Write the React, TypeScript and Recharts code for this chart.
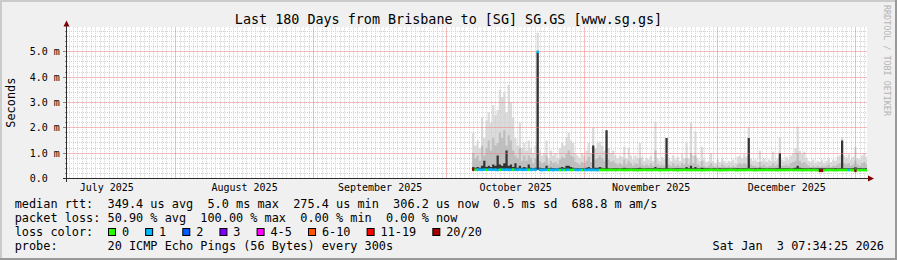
import { Area, CartesianGrid, ComposedChart, ReferenceLine, Scatter, XAxis, YAxis } from 'recharts';

const FONT = '"DejaVu Sans Mono", "Liberation Mono", monospace';
const W = 897;
const H = 260;
const PLOT_L = 67;
const PLOT_R = 867;
const PLOT_T = 27.2;
const PLOT_B = 178.4;
const X_AXIS_H = 30;

// time axis: days since 1 July 2025 00:00
const X_MIN = 6.55;
const X_MAX = 186.55;
const MONTH_START = [31, 62, 92, 123, 153, 184];
const MONTH_MID = [15.5, 46.5, 77, 107.5, 138, 168.5];
const MONTH_LABEL = ['July 2025', 'August 2025', 'September 2025', 'October 2025', 'November 2025', 'December 2025'];

// value axis in milliseconds
const Y_MAX = 5.97;
const Y_MAJOR = [0, 1, 2, 3, 4, 5];
const Y_LABEL = ['0.0', '1.0 m', '2.0 m', '3.0 m', '4.0 m', '5.0 m'];

// one sample every half day from 7 Oct 2025
const SAMPLE_START = 97.7;
const SAMPLE_STEP = 0.5;

const minRtt = [
  0.31, 0.31, 0.32, 0.31, 0.31, 0.32, 0.31, 0.31, 0.32, 0.31,
  0.32, 0.31, 0.31, 0.32, 0.31, 0.31, 0.32, 0.31, 0.31, 0.31,
  0.31, 0.32, 0.31, 0.31, 0.32, 0.31, 0.31, 0.32, 0.31, 0.34,
  0.31, 0.31, 0.31, 0.31, 0.31, 0.31, 0.31, 0.31, 0.31, 0.31,
  0.31, 0.31, 0.31, 0.31, 0.31, 0.31, 0.31, 0.31, 0.31, 0.31,
  0.31, 0.31, 0.31, 0.31, 0.31, 0.31, 0.31, 0.31, 0.31, 0.31,
  0.31, 0.31, 0.31, 0.31, 0.31, 0.31, 0.31, 0.31, 0.31, 0.31,
  0.31, 0.31, 0.31, 0.31, 0.30, 0.31, 0.31, 0.31, 0.31, 0.31,
  0.31, 0.31, 0.31, 0.31, 0.30, 0.31, 0.31, 0.31, 0.31, 0.31,
  0.31, 0.31, 0.30, 0.31, 0.31, 0.31, 0.31, 0.31, 0.31, 0.31,
  0.31, 0.31, 0.31, 0.30, 0.31, 0.31, 0.31, 0.31, 0.31, 0.31,
  0.31, 0.30, 0.31, 0.31, 0.31, 0.31, 0.31, 0.31, 0.31, 0.30,
  0.31, 0.31, 0.31, 0.31, 0.31, 0.31, 0.31, 0.30, 0.31, 0.31,
  0.31, 0.31, 0.31, 0.31, 0.31, 0.31, 0.31, 0.30, 0.31, 0.31,
  0.31, 0.31, 0.31, 0.31, 0.31, 0.31, 0.31, 0.31, 0.30, 0.31,
  0.31, 0.31, 0.30, 0.31, 0.31, 0.30, 0.29, 0.29, 0.30, 0.31,
  0.31, 0.31, 0.31, 0.30, 0.31, 0.31, 0.31, 0.31, 0.31, 0.31,
  0.31, 0.30, 0.29, 0.31, 0.30, 0.31, 0.31, 0.30, 0.30,
];

const medianRtt = [
  0.35, 0.34, 0.35, 0.34, 0.34, 0.35, 0.34, 0.35, 0.35, 0.34,
  0.35, 0.33, 0.34, 0.35, 0.34, 0.35, 0.34, 0.34, 0.35, 0.34,
  0.34, 0.35, 0.34, 0.34, 0.35, 0.34, 0.34, 0.35, 0.34, 5.0,
  0.34, 0.33, 0.34, 0.34, 0.33, 0.34, 0.33, 0.34, 0.34, 0.33,
  0.34, 0.33, 0.34, 0.34, 0.33, 0.34, 0.34, 0.33, 0.34, 0.33,
  0.34, 0.33, 0.34, 0.33, 0.34, 0.33, 0.33, 0.33, 0.34, 0.33,
  0.33, 0.33, 0.34, 0.33, 0.33, 0.33, 0.34, 0.33, 0.33, 0.33,
  0.33, 0.34, 0.33, 0.33, 0.32, 0.33, 0.33, 0.34, 0.33, 0.33,
  0.33, 0.33, 0.34, 0.33, 0.32, 0.33, 0.33, 0.33, 0.33, 0.34,
  0.33, 0.33, 0.32, 0.33, 0.33, 0.34, 0.33, 0.33, 0.33, 0.33,
  0.33, 0.33, 0.33, 0.32, 0.33, 0.33, 0.33, 0.34, 0.33, 0.33,
  0.33, 0.32, 0.33, 0.33, 0.33, 0.33, 0.34, 0.33, 0.33, 0.32,
  0.33, 0.33, 0.33, 0.33, 0.34, 0.33, 0.33, 0.32, 0.33, 0.33,
  0.33, 0.33, 0.34, 0.33, 0.33, 0.33, 0.33, 0.32, 0.33, 0.33,
  0.33, 0.33, 0.33, 0.34, 0.33, 0.33, 0.33, 0.33, 0.32, 0.33,
  0.33, 0.33, 0.32, 0.33, 0.33, 0.32, 0.30, 0.30, 0.32, 0.33,
  0.33, 0.33, 0.33, 0.32, 0.33, 0.33, 0.33, 0.33, 0.33, 0.33,
  0.33, 0.32, 0.30, 0.33, 0.32, 0.33, 0.33, 0.32, 0.32,
];

// densest band of the smoke
const darkRtt = [
  0.45, 0.42, 0.45, 0.42, 0.5, 0.7, 0.45, 0.5, 0.45, 0.55,
  0.5, 0.9, 0.55, 0.5, 0.6, 1.1, 0.5, 0.55, 0.45, 0.6,
  0.42, 0.5, 0.42, 0.45, 0.42, 0.55, 0.42, 0.4, 0.42, 5.0,
  0.42, 0.4, 0.4, 0.5, 0.4, 0.42, 0.4, 0.4, 0.4, 0.42,
  0.45, 0.42, 0.5, 0.5, 0.45, 0.42, 0.4, 0.4, 0.4, 0.4,
  0.4, 0.42, 0.45, 0.4, 1.3, 0.42, 0.42, 0.45, 0.42, 0.4,
  1.9, 0.4, 0.4, 0.4, 0.4, 0.4, 0.4, 0.4, 0.42, 0.4,
  0.4, 0.4, 0.4, 0.4, 0.4, 0.42, 0.4, 0.4, 0.4, 0.4,
  0.4, 0.4, 0.45, 0.4, 0.4, 0.4, 0.4, 1.6, 0.4, 0.4,
  0.4, 0.4, 0.4, 0.4, 0.4, 0.4, 0.45, 0.4, 0.5, 0.4,
  0.45, 0.4, 0.4, 0.42, 0.4, 0.4, 0.4, 0.4, 0.4, 0.4,
  0.4, 0.4, 0.4, 0.4, 0.4, 0.4, 0.4, 0.4, 0.4, 0.4,
  0.4, 0.4, 0.4, 0.4, 1.6, 0.4, 0.4, 0.4, 0.4, 0.42,
  0.4, 0.4, 0.4, 0.4, 0.4, 0.4, 0.4, 0.4, 1.0, 0.4,
  0.4, 0.4, 0.4, 0.4, 0.4, 0.42, 0.5, 0.42, 0.4, 0.4,
  0.4, 0.4, 0.4, 0.4, 0.4, 0.4, 0.4, 0.4, 0.4, 0.4,
  0.4, 0.4, 0.4, 0.4, 0.4, 0.4, 1.5, 0.4, 0.4, 0.4,
  0.4, 0.4, 0.45, 0.4, 0.4, 0.4, 0.4, 0.4, 0.4,
];

// middle band of the smoke
const midRtt = [
  1.0, 0.8, 0.9, 0.7, 1.3, 0.9, 1.2, 1.5, 1.1, 1.6,
  1.3, 1.4, 1.8, 1.6, 1.9, 1.3, 1.7, 1.5, 1.1, 0.9,
  0.8, 1.2, 0.7, 0.9, 0.7, 0.9, 0.8, 0.6, 0.8, 5.0,
  0.7, 0.6, 0.65, 0.9, 0.55, 0.7, 0.6, 0.65, 0.55, 0.75,
  0.85, 0.8, 0.95, 1.1, 0.9, 0.85, 0.65, 0.6, 0.55, 0.65,
  0.6, 0.7, 0.85, 0.65, 1.2, 0.75, 0.8, 0.9, 0.8, 0.7,
  1.2, 0.75, 0.65, 0.7, 0.6, 0.55, 0.6, 0.55, 0.75, 0.55,
  0.7, 0.6, 0.5, 0.6, 0.55, 0.8, 0.55, 0.5, 0.55, 0.5,
  0.6, 0.5, 1.1, 0.55, 0.5, 0.55, 0.5, 1.0, 0.55, 0.5,
  0.6, 0.5, 0.55, 0.5, 0.6, 0.55, 0.8, 0.55, 1.0, 0.6,
  0.9, 0.55, 0.5, 0.7, 0.5, 0.45, 0.5, 0.6, 0.5, 0.45,
  0.5, 0.45, 0.55, 0.5, 0.45, 0.5, 0.45, 0.5, 0.45, 0.55,
  0.6, 0.55, 0.6, 0.55, 1.1, 0.55, 0.5, 0.5, 0.45, 0.65,
  0.5, 0.55, 0.45, 0.5, 0.5, 0.6, 0.5, 0.55, 0.9, 0.5,
  0.5, 0.55, 0.5, 0.6, 0.65, 0.7, 1.0, 0.7, 0.6, 0.65,
  0.55, 0.5, 0.45, 0.5, 0.45, 0.5, 0.45, 0.5, 0.45, 0.5,
  0.55, 0.45, 0.5, 0.5, 0.55, 0.6, 0.9, 0.6, 0.55, 0.6,
  0.5, 0.55, 0.7, 0.55, 0.5, 0.6, 0.65, 0.55, 0.55,
];

const maxRtt = [
  1.8, 1.3, 1.5, 1.2, 2.4, 1.6, 2.3, 2.6, 2.2, 2.9,
  2.5, 2.7, 3.5, 3.2, 3.4, 2.6, 3.7, 3.0, 2.4, 1.6,
  1.3, 2.2, 1.2, 1.4, 1.1, 1.5, 1.2, 1.0, 1.3, 5.75,
  1.1, 0.9, 1.0, 1.5, 0.8, 1.1, 0.9, 1.0, 0.8, 1.2,
  1.4, 1.3, 1.6, 1.8, 1.5, 1.4, 1.0, 0.9, 0.8, 1.0,
  0.9, 1.1, 1.4, 1.0, 2.0, 1.2, 1.4, 1.45, 1.3, 1.1,
  1.9, 1.2, 1.0, 1.1, 0.9, 0.8, 0.9, 0.85, 1.25, 0.8,
  1.2, 0.9, 0.75, 0.9, 0.8, 1.4, 0.85, 0.7, 0.8, 0.75,
  0.9, 0.7, 2.25, 0.8, 0.7, 0.85, 0.75, 1.6, 0.8, 0.7,
  0.9, 0.75, 0.85, 0.7, 0.95, 0.8, 1.4, 0.8, 2.2, 0.9,
  1.85, 0.8, 0.7, 1.25, 0.75, 0.65, 0.7, 1.0, 0.7, 0.6,
  0.75, 0.65, 0.8, 0.7, 0.6, 0.7, 0.65, 0.75, 0.6, 0.85,
  0.9, 0.8, 0.95, 0.85, 2.0, 0.8, 0.7, 0.75, 0.65, 1.1,
  0.7, 0.8, 0.65, 0.75, 0.7, 1.05, 0.7, 0.8, 1.6, 0.75,
  0.7, 0.85, 0.75, 0.9, 1.0, 1.2, 2.05, 1.1, 0.95, 1.05,
  0.8, 0.7, 0.65, 0.75, 0.6, 0.7, 0.65, 0.75, 0.6, 0.7,
  0.8, 0.65, 0.75, 0.7, 0.85, 0.9, 1.6, 0.9, 0.8, 0.95,
  0.75, 0.85, 1.25, 0.8, 0.75, 0.9, 1.0, 0.85, 0.85,
];

// lost pings out of 20 per sample
const lostPings = [
  20, 0, 1, 1, 1, 1, 0, 1, 1, 1,
  1, 1, 0, 1, 1, 1, 1, 1, 0, 1,
  1, 1, 1, 1, 1, 0, 1, 1, 1, 1,
  1, 1, 1, 1, 0, 1, 1, 1, 1, 0,
  1, 0, 1, 1, 0, 0, 1, 1, 1, 0,
  1, 1, 1, 1, 1, 1, 1, 0, 0, 0,
  0, 0, 0, 0, 0, 0, 0, 0, 0, 0,
  0, 0, 0, 0, 0, 0, 0, 0, 0, 0,
  0, 0, 0, 0, 0, 0, 0, 0, 0, 0,
  0, 0, 0, 0, 0, 0, 0, 0, 0, 0,
  0, 0, 0, 0, 0, 0, 0, 0, 0, 0,
  0, 0, 0, 0, 0, 0, 0, 0, 0, 0,
  0, 0, 0, 0, 0, 0, 0, 0, 0, 0,
  0, 0, 0, 0, 0, 0, 0, 0, 0, 0,
  0, 0, 0, 0, 0, 0, 0, 0, 0, 0,
  0, 0, 0, 0, 0, 0, 20, 20, 0, 0,
  0, 0, 0, 0, 0, 0, 0, 0, 0, 1,
  0, 0, 20, 0, 0, 0, 0, 0, 0,
];

const LOSS_LEVEL = [0, 1, 2, 3, 4, 6, 11, 20];
const LOSS_NAME = ['0', '1', '2', '3', '4-5', '6-10', '11-19', '20/20'];
const LOSS_COLOR = ['#26ff00', '#00b8ff', '#0059ff', '#7e00ff', '#ff00ff', '#ff5500', '#ff0000', '#a10000'];

const LEGEND_LINES = [
  'median rtt:  349.4 us avg  5.0 ms max  275.4 us min  306.2 us now  0.5 ms sd  688.8 m am/s',
  'packet loss: 50.90 % avg  100.00 % max  0.00 % min  0.00 % now',
  'loss color:',
  'probe:       20 ICMP Echo Pings (56 Bytes) every 300s',
];
const TITLE = 'Last 180 Days from Brisbane to [SG] SG.GS [www.sg.gs]';
const STAMP = 'Sat Jan  3 07:34:25 2026';

const rows = maxRtt.map((v, i) => ({
  t: SAMPLE_START + i * SAMPLE_STEP,
  lo: minRtt[i],
  med: medianRtt[i],
  dark: darkRtt[i],
  mid: midRtt[i],
  max: v,
  loss: lostPings[i],
}));

const lossColor = (n: number) => {
  let c = LOSS_COLOR[0];
  LOSS_LEVEL.forEach((lvl, k) => { if (n >= lvl) c = LOSS_COLOR[k]; });
  return c;
};

const dayLines = Array.from({ length: 180 }, (_, i) => 7 + i).filter((d) => d < X_MAX && !MONTH_START.includes(d));
const yTicks = Array.from({ length: 30 }, (_, i) => Math.round(i * 2) / 10);
const yMinor = yTicks.filter((v) => v > 0 && !Number.isInteger(v));
const yMajor = Y_MAJOR.filter((v) => v > 0);

const GRID = '#d2d2d2';
const MGRID = '#ee7a7a';
const CW = 11.87 * 0.602;
const COL0 = 14.7;
const STEP_PX = ((PLOT_R - PLOT_L) / (X_MAX - X_MIN)) * SAMPLE_STEP;

// grid positions, snapped for a crisp 1px dotted line
const snap = (v: number) => Math.round(v - 0.5) + 0.5;
const scaleOf = (axis: any) => {
  const s = axis && axis.scale;
  if (typeof s === 'function') return s;
  if (s && typeof s.map === 'function') return (v: number) => s.map(v);
  return null;
};
const xPos = (axis: any, d: number) => {
  const s = scaleOf(axis);
  return snap(s ? s(d) : PLOT_L + ((d - X_MIN) / (X_MAX - X_MIN)) * (PLOT_R - PLOT_L));
};
const yPos = (axis: any, v: number) => {
  const s = scaleOf(axis);
  return snap(s ? s(v) : PLOT_B - (v / Y_MAX) * (PLOT_B - PLOT_T));
};

function MajorLine(p: any) {
  if (p.x1 == null || p.y1 == null) return null;
  return (
    <line x1={snap(p.x1)} y1={snap(p.y1)} x2={snap(p.x2)} y2={snap(p.y2)} stroke={MGRID} strokeWidth={1} strokeDasharray="1 1" />
  );
}

function MedianMark(props: any) {
  const { cx, cy, payload } = props;
  if (cx == null || cy == null) return null;
  return <rect x={cx} y={cy - 1.3} width={STEP_PX + 0.2} height={2.6} fill={lossColor(payload.loss)} />;
}

function YTick(props: any) {
  const { y, payload } = props;
  const v = payload.value;
  const k = Y_MAJOR.indexOf(v);
  return (
    <g>
      <line x1={PLOT_L - (k >= 0 ? 4 : 2)} x2={PLOT_L} y1={snap(y)} y2={snap(y)} stroke="#8a8a8a" />
      {k >= 0 && (
        <text x={29.7} y={y + 3.6} fontSize={10} fontFamily={FONT} fill="#000" textAnchor="start">
          {Y_LABEL[k]}
        </text>
      )}
    </g>
  );
}

function XTick(props: any) {
  const { x, payload } = props;
  const k = MONTH_MID.indexOf(payload.value);
  return (
    <text x={x} y={190.6} fontSize={10} fontFamily={FONT} fill="#000" textAnchor="middle">
      {MONTH_LABEL[k]}
    </text>
  );
}

export default function App() {
  let bx = 108.5;
  const boxes = LOSS_NAME.map((name, k) => {
    const x = bx;
    bx += 30 + name.length * CW;
    return (
      <g key={name}>
        <rect x={x} y={228.5} width={7} height={7} fill={LOSS_COLOR[k]} stroke="#000" strokeWidth={1} />
        <text x={x + 13.4} y={236.1} fontSize={11.87} fontFamily={FONT} fill="#000">{name}</text>
      </g>
    );
  });

  return (
    <div style={{ position: 'absolute', left: 0, top: 0, width: W, height: H, background: '#f0f0f0', overflow: 'hidden' }}>
      <div style={{ position: 'absolute', left: PLOT_L, top: PLOT_T, width: PLOT_R - PLOT_L, height: PLOT_B - PLOT_T, background: '#fff' }} />
      <div style={{ position: 'absolute', left: 0, top: 0 }}>
        <ComposedChart
          width={W}
          height={H}
          data={rows}
          margin={{ top: PLOT_T, right: W - PLOT_R, bottom: H - PLOT_B - X_AXIS_H, left: 0 }}
        >
          <CartesianGrid
            stroke={GRID}
            strokeDasharray="1 1"
            verticalCoordinatesGenerator={({ xAxis }: any) => dayLines.map((d) => xPos(xAxis, d))}
            horizontalCoordinatesGenerator={({ yAxis }: any) => yMinor.map((v) => yPos(yAxis, v))}
          />
          <XAxis
            dataKey="t"
            type="number"
            domain={[X_MIN, X_MAX]}
            allowDataOverflow
            ticks={MONTH_MID}
            interval={0}
            height={X_AXIS_H}
            axisLine={false}
            tickLine={false}
            tick={<XTick />}
          />
          <YAxis
            type="number"
            domain={[0, Y_MAX]}
            allowDataOverflow
            ticks={yTicks}
            interval={0}
            width={PLOT_L}
            axisLine={false}
            tickLine={false}
            tick={<YTick />}
          />
          <Area type="stepAfter" dataKey={(d: any) => [d.lo, d.max]} stroke="none" fill="#cfcfcf" fillOpacity={0.75} isAnimationActive={false} />
          <Area type="stepAfter" dataKey={(d: any) => [d.lo, d.mid]} stroke="none" fill="#a8a8a8" fillOpacity={0.55} isAnimationActive={false} />
          <Area type="stepAfter" dataKey={(d: any) => [d.lo, d.dark]} stroke="none" fill="#333333" fillOpacity={1} isAnimationActive={false} />
          {yMajor.map((v) => (
            <ReferenceLine key={`yM${v}`} y={v} stroke={MGRID} shape={MajorLine} />
          ))}
          {MONTH_START.map((d) => (
            <ReferenceLine key={`xM${d}`} x={d} stroke={MGRID} shape={MajorLine} />
          ))}
          <Scatter dataKey="med" shape={MedianMark} isAnimationActive={false} />
        </ComposedChart>
      </div>
      <svg width={W} height={H} style={{ position: 'absolute', left: 0, top: 0, pointerEvents: 'none' }}>
        <rect x={0} y={0} width={W} height={2} fill="#cbcbcb" />
        <rect x={0} y={0} width={2} height={H} fill="#cbcbcb" />
        <rect x={0} y={H - 2} width={W} height={2} fill="#999999" />
        <rect x={W - 2} y={0} width={2} height={H} fill="#999999" />
        <text x={448.5} y={24} fontSize={13.4} fontFamily={FONT} fill="#000" textAnchor="middle" style={{ whiteSpace: 'pre' }}>
          {TITLE}
        </text>
        <text transform="translate(15,102.7) rotate(-90)" fontSize={11.87} fontFamily={FONT} fill="#000" textAnchor="middle">
          Seconds
        </text>
        <text transform="translate(884,5) rotate(90)" fontSize={8.4} fontFamily={FONT} fill="#b4b4b4" textAnchor="start" style={{ whiteSpace: 'pre' }}>
          RRDTOOL / TOBI OETIKER
        </text>
        <line x1={PLOT_L - 0.5} x2={PLOT_L - 0.5} y1={182} y2={24} stroke="#2c2c2c" strokeWidth={1} />
        <line x1={63} x2={870} y1={178.5} y2={178.5} stroke="#2c2c2c" strokeWidth={1} />
        <polygon points={`${PLOT_L - 0.5},20.5 ${PLOT_L - 3.5},26.5 ${PLOT_L + 2.5},26.5`} fill="#7f0000" />
        <polygon points="874,178.5 868,175.5 868,181.5" fill="#7f0000" />
        {LEGEND_LINES.map((line, k) => (
          <text key={k} x={COL0} y={208.3 + k * 13.9} fontSize={11.87} fontFamily={FONT} fill="#000" style={{ whiteSpace: 'pre' }}>
            {line}
          </text>
        ))}
        {boxes}
        <text x={712.6} y={250} fontSize={11.87} fontFamily={FONT} fill="#000" style={{ whiteSpace: 'pre' }}>
          {STAMP}
        </text>
      </svg>
    </div>
  );
}
